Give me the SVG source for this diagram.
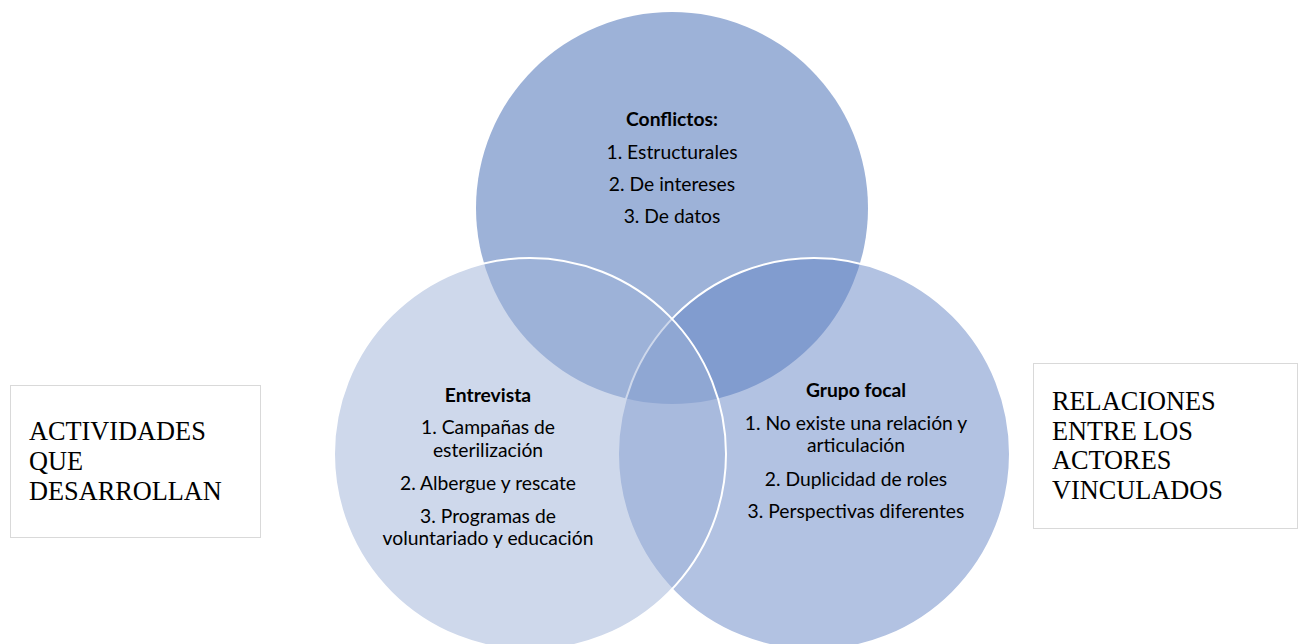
<svg xmlns="http://www.w3.org/2000/svg" width="1298" height="644" viewBox="0 0 1298 644">
<style>
.t{font-family:Lato,"Liberation Sans",sans-serif;font-size:19.3px;fill:#000;text-anchor:middle}
.b{font-weight:bold}
.s{font-family:"Liberation Serif","Times New Roman",serif;font-size:26.3px;fill:#000}
.box{fill:#fff;stroke:#d9d9d9;stroke-width:1}
</style>
<rect width="1298" height="644" fill="#fff"/>
<g id="circle-top">
<circle cx="672" cy="208" r="196" fill="#9db2d8"/>
</g>
<g id="circle-right">
<circle cx="814" cy="454" r="196" fill="#6585c5" fill-opacity="0.5" stroke="#fff" stroke-width="2"/>
</g>
<g id="circle-left">
<circle cx="530" cy="454" r="196" fill="#9db2d8" fill-opacity="0.5" stroke="#fff" stroke-width="2"/>
</g>
<g id="text-top">
<text class="t b" x="672" y="126">Conflictos:</text>
<text class="t" x="672" y="159">1. Estructurales</text>
<text class="t" x="672" y="191">2. De intereses</text>
<text class="t" x="672" y="223">3. De datos</text>
</g>
<g id="text-left">
<text class="t b" x="488" y="402">Entrevista</text>
<text class="t" x="488" y="434">1. Campañas de</text>
<text class="t" x="488" y="457">esterilización</text>
<text class="t" x="488" y="490">2. Albergue y rescate</text>
<text class="t" x="488" y="523">3. Programas de</text>
<text class="t" x="488" y="545">voluntariado y educación</text>
</g>
<g id="text-right">
<text class="t b" x="856" y="397">Grupo focal</text>
<text class="t" x="856" y="430">1. No existe una relación y</text>
<text class="t" x="856" y="452">articulación</text>
<text class="t" x="856" y="486">2. Duplicidad de roles</text>
<text class="t" x="856" y="518">3. Perspectivas diferentes</text>
</g>
<g id="box-left">
<rect class="box" x="10.5" y="385.5" width="250" height="152"/>
<text class="s" x="29" y="440">ACTIVIDADES</text>
<text class="s" x="29" y="470">QUE</text>
<text class="s" x="29" y="500">DESARROLLAN</text>
</g>
<g id="box-right">
<rect class="box" x="1033.5" y="363.5" width="264" height="165"/>
<text class="s" x="1052" y="410">RELACIONES</text>
<text class="s" x="1052" y="440">ENTRE LOS</text>
<text class="s" x="1052" y="469">ACTORES</text>
<text class="s" x="1052" y="499">VINCULADOS</text>
</g>
<g id="connectors"></g>
</svg>
